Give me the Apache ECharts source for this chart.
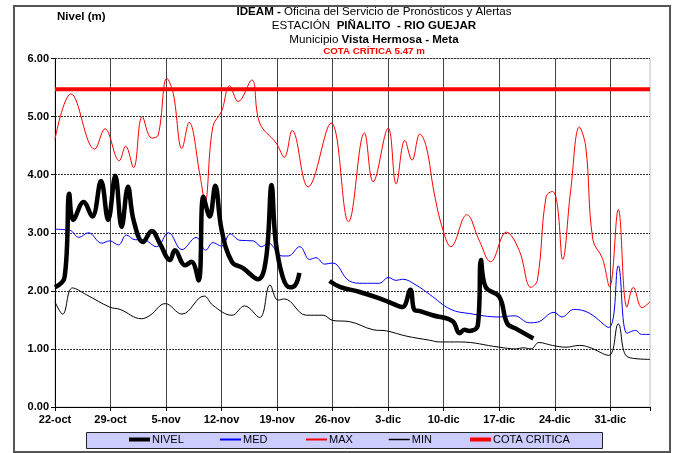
<!DOCTYPE html>
<html>
<head>
<meta charset="utf-8">
<script src="https://cdn.jsdelivr.net/npm/echarts@6/dist/echarts.min.js"></script>
<style>
    html, body { margin: 0; padding: 0; background: #fff; }
    #chart { width: 676px; height: 453px; }
</style>
</head>
<body>
<div id="chart"></div>
<script>
    // dias contados desde el 22-oct
    var tickLabels = ['22-oct', '29-oct', '5-nov', '12-nov', '19-nov', '26-nov', '3-dic', '10-dic', '17-dic', '24-dic', '31-dic'];
    var cotaCritica = 5.47;

    var nivelDias = [0, 1.2, 1.8, 2.3, 3.6, 4.7, 5.8, 6.7, 7.6, 8.4, 9.2, 9.9, 11.1, 12.2, 13.2, 14.5, 15.1, 16.4, 17.2, 18.1, 18.7, 19.5, 20.2, 21, 22.3, 23.7, 25.6, 26.6, 27.3, 27.8, 28.7, 29.6, 30.3, 30.8,
        32.5, 34.6, 35.9, 38.4, 40.9, 42.4, 43.8, 44.8, 45.3, 46, 47.6, 50.1, 51, 51.6, 52.2, 53.3, 53.7, 54.3, 56, 57, 58.1, 60.3];
    var nivelVals = [2.06, 2.23, 3.67, 3.22, 3.53, 3.28, 3.89, 3.22, 3.98, 3.10, 3.79, 3.22, 2.84, 3.03, 2.82, 2.53, 2.70, 2.44, 2.50, 2.18, 3.62, 3.28, 3.81, 3.05, 2.50, 2.39, 2.20, 2.55, 3.82, 2.87, 2.24, 2.06, 2.10, 2.31,
        null, 2.17, 2.07, 1.98, 1.87, 1.79, 1.72, 2.02, 1.67, 1.65, 1.58, 1.48, 1.27, 1.33, 1.31, 1.41, 2.53, 2.06, 1.90, 1.44, 1.35, 1.18];

    var medDias = [0, 1.9, 3.0, 4.2, 5.9, 6.9, 8.0, 9.0, 10.1, 11.1, 12.8, 14.3, 16.0, 17.8, 19.0, 19.9, 21, 22.1, 23.3, 25, 26, 26.9, 28.6, 29.4, 30.85, 32.1, 32.9, 34, 35, 37.1, 38.8, 40.9, 42, 43, 43.8, 45.5, 47.2, 49.9, 52.2, 56, 57.9, 59.8, 60.8, 62.9, 63.9, 65.4, 67.3, 69.8, 71, 72.1, 73.2, 73.9, 75];
    var medVals = [3.06, 3.04, 2.92, 3.00, 2.82, 2.86, 2.79, 2.96, 2.88, 2.88, 2.76, 3.00, 2.71, 2.92, 2.70, 2.83, 2.77, 2.98, 2.87, 2.86, 2.76, 2.82, 2.60, 2.60, 2.76, 2.54, 2.57, 2.46, 2.48, 2.17, 2.13, 2.13, 2.23, 2.18, 2.20, 2.10, 1.94, 1.68, 1.61, 1.55, 1.57, 1.45, 1.46, 1.63, 1.55, 1.68, 1.62, 1.37, 2.43, 1.27, 1.32, 1.25, 1.25];

    var maxDias = [0, 2, 5, 6.3, 8.1, 8.9, 9.9, 11, 12.2, 13, 14.1, 14.9, 16, 16.9, 18.3, 18.9, 19.9, 21, 22, 23.1, 24.8, 25.8, 27.9, 28.9, 29.9, 31.9, 34.8, 37, 39, 40.1, 42, 43, 44.1, 45, 46, 46.8, 47.8, 48.9, 49.9, 51.9, 53.5, 54.9, 56.9, 58.5, 60, 60.8, 61.9, 62.7, 63.3, 64, 65, 66.1, 66.9, 67.8, 69, 69.9, 71, 72.1, 72.9, 74, 75];
    var maxVals = [4.61, 5.39, 4.44, 4.79, 4.24, 4.49, 4.12, 5.00, 4.63, 4.68, 5.66, 5.40, 4.45, 4.90, 3.97, 3.53, 4.83, 5.09, 5.53, 5.26, 5.63, 4.89, 4.54, 4.30, 4.76, 3.79, 4.89, 3.19, 4.72, 3.88, 4.80, 3.84, 4.59, 4.25, 4.70, 4.48, 3.68, 3.05, 2.76, 3.31, 2.86, 2.50, 3.01, 2.70, 2.06, 2.18, 3.62, 3.71, 3.50, 2.54, 3.73, 4.82, 4.48, 2.88, 2.56, 2.07, 3.40, 1.72, 2.06, 1.71, 1.81];

    var minDias = [0, 0.97, 2.2, 4.0, 6.9, 8.2, 10.9, 12, 13.9, 16, 18.8, 19.9, 22.3, 23.9, 25.8, 27.1, 28.1, 28.9, 31.7, 33.8, 35, 37.1, 40.1, 41.8, 44.3, 47.2, 48.5, 51, 56, 58.1, 59, 60, 61, 62.7, 64.4, 66.1, 67.3, 69.8, 71, 72.2, 75];
    var minVals = [1.81, 1.60, 2.05, 1.93, 1.72, 1.68, 1.52, 1.58, 1.78, 1.60, 1.91, 1.75, 1.58, 1.74, 1.54, 2.10, 1.84, 1.86, 1.58, 1.58, 1.49, 1.47, 1.33, 1.31, 1.22, 1.15, 1.12, 1.12, 1.03, 1.00, 1.02, 1.00, 1.11, 1.06, 1.03, 1.06, 1.03, 0.89, 1.43, 0.86, 0.82];

    var font = 'Liberation Sans, Arial, sans-serif';

    function pares(dias, vals) {
        return dias.map(function (d, i) {
            return [d, vals[i] === null ? '-' : vals[i]];
        });
    }

    // una leyenda por serie para poder dar a cada una su grosor; el simbolo queda transparente
    function leyenda(nombre, x, grosor, color) {
        return {
            data: [nombre],
            left: x,
            top: 434,
            padding: 0,
            itemWidth: 21,
            itemHeight: 8,
            itemStyle: { color: 'rgba(0,0,0,0)', borderColor: 'rgba(0,0,0,0)', borderWidth: 0 },
            lineStyle: { color: color, width: grosor },
            textStyle: { fontSize: 11, color: '#000', fontFamily: font, padding: [0, 0, 0, -3] }
        };
    }

    var titulo = function (texto, top, size) {
        return {
            text: texto,
            left: 374, top: top, padding: 0, textAlign: 'center',
            textStyle: { fontSize: size, fontWeight: 'normal', color: '#000', fontFamily: font,
                rich: { b: { fontSize: size, fontWeight: 'bold', color: '#000', fontFamily: font } } }
        };
    };

    var myChart = echarts.init(document.getElementById('chart'));
    var option = {
        backgroundColor: '#fff',
        animation: false,
        title: [{
            text: 'Nivel (m)',
            left: 57, top: 11, padding: 0,
            textStyle: { fontSize: 11.5, fontWeight: 'bold', color: '#000', fontFamily: font }
        },
            titulo('{b|IDEAM -} Oficina del Servicio de Pronósticos y Alertas', 6, 11.6),
            titulo('ESTACIÓN  {b|PIÑALITO  - RIO GUEJAR}', 20, 11.6),
            titulo('Municipio {b|Vista Hermosa - Meta}', 34, 11.6),
        {
            text: 'COTA CRÍTICA 5.47 m',
            left: 374, top: 46, padding: 0, textAlign: 'center',
            textStyle: { fontSize: 9.7, fontWeight: 'bold', color: '#ff0000', fontFamily: font }
        }],
        graphic: [{
            type: 'rect', z: -1,
            shape: { x: 14, y: 6, width: 656, height: 446 },
            style: { fill: 'none', stroke: '#555', lineWidth: 2 }
        }, {
            type: 'rect', z: -1,
            shape: { x: 86.5, y: 432.5, width: 516, height: 16 },
            style: { fill: '#ccccff', stroke: '#222', lineWidth: 1 }
        }],
        legend: [
            leyenda('NIVEL', 127, 4, '#000'),
            leyenda('MED', 219, 2, '#0000ff'),
            leyenda('MAX', 305, 2, '#ff0000'),
            leyenda('MIN', 388, 1.5, '#000'),
            leyenda('COTA CRITICA', 468, 4, '#ff0000')
        ],
        grid: {
            left: 55, right: 26, top: 58.5, bottom: 46,
            show: true, borderColor: '#bbb', borderWidth: 1
        },
        xAxis: {
            type: 'value',
            min: 0, max: 75, interval: 7,
            axisLine: { show: true, lineStyle: { color: '#000', width: 1 } },
            axisTick: { show: true, length: 4, lineStyle: { color: '#000' } },
            axisLabel: {
                color: '#000', fontSize: 11, fontWeight: 'bold', fontFamily: font, margin: 7,
                formatter: function (v) {
                    return v % 7 === 0 ? tickLabels[v / 7] : '';
                }
            },
            splitLine: { show: true, showMaxLine: false, lineStyle: { color: '#444', width: 1 } }
        },
        yAxis: {
            type: 'value',
            min: 0, max: 6, interval: 1,
            axisLine: { show: true, lineStyle: { color: '#000', width: 1 } },
            axisTick: { show: true, length: 4, lineStyle: { color: '#000' } },
            axisLabel: {
                color: '#000', fontSize: 11, fontWeight: 'bold', fontFamily: font, margin: 6,
                formatter: function (v) { return v.toFixed(2); }
            },
            splitLine: { show: true, lineStyle: { color: '#333', width: 1, type: [2, 1] } }
        },
        series: [{
            name: 'NIVEL', type: 'line', smooth: 0.4, symbol: 'none', z: 5,
            color: '#000', lineStyle: { color: '#000', width: 4.5 },
            data: pares(nivelDias, nivelVals)
        }, {
            name: 'MED', type: 'line', smooth: 0.4, symbol: 'none', z: 3,
            color: '#0000ff', lineStyle: { color: '#0000ff', width: 1 },
            data: pares(medDias, medVals)
        }, {
            name: 'MAX', type: 'line', smooth: 0.4, symbol: 'none', z: 3,
            color: '#ff0000', lineStyle: { color: '#ff0000', width: 1 },
            data: pares(maxDias, maxVals)
        }, {
            name: 'MIN', type: 'line', smooth: 0.4, symbol: 'none', z: 3,
            color: '#000', lineStyle: { color: '#000', width: 1 },
            data: pares(minDias, minVals)
        }, {
            name: 'COTA CRITICA', type: 'line', symbol: 'none', z: 4,
            color: '#ff0000', lineStyle: { color: '#ff0000', width: 4 },
            data: [[0, cotaCritica], [75, cotaCritica]]
        }]
    };
    myChart.setOption(option);
</script>
</body>
</html>
